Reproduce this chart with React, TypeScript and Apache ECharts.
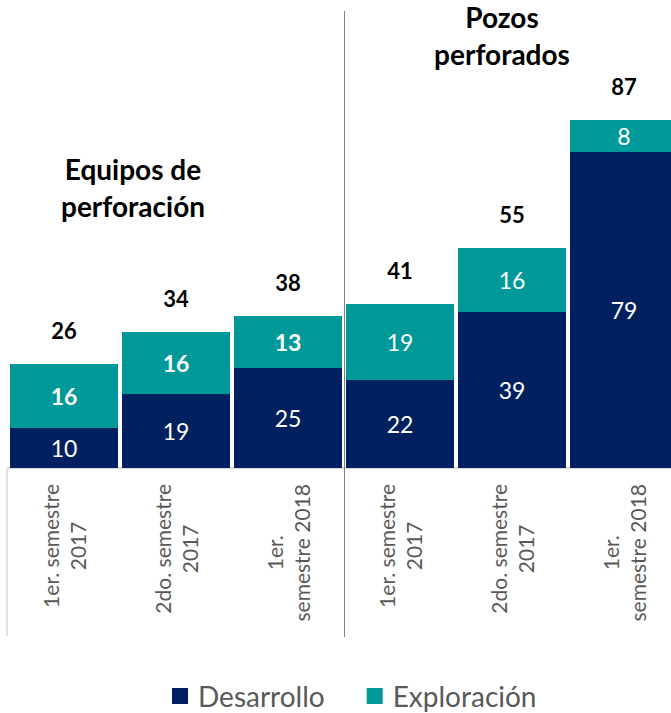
import React, { useEffect, useRef } from "react";
import * as echarts from "echarts";

const categoryLabels = [
  "1er. semestre\n2017",
  "2do. semestre\n2017",
  "1er.\nsemestre 2018",
  "1er. semestre\n2017",
  "2do. semestre\n2017",
  "1er.\nsemestre 2018",
];
const categoryIds = ["c0", "c1", "c2", "c3", "c4", "c5"];
const desarrollo = [10, 18.5, 25, 22, 39, 79];
const exploracion = [16, 15.5, 13, 19, 16, 8];
const exploracionBold = [true, true, true, false, false, false];
const groupTitles = ["Equipos de\nperforación", "Pozos\nperforados"];

const NAVY = "#002060";
const TEAL = "#009999";
const FONT = "Lato, 'Open Sans', sans-serif";

export default function App() {
  const ref = useRef<HTMLDivElement>(null);
  useEffect(() => {
    if (!ref.current) return;
    const chart = echarts.init(ref.current, undefined, { renderer: "svg" });
    const totals = desarrollo.map((d, i) => d + exploracion[i]);
    const titleStyle = {
      fontFamily: FONT,
      fontWeight: "bold",
      fontSize: 28,
      color: "#000",
      lineHeight: 37,
    };
    chart.setOption({
      animation: false,
      textStyle: { fontFamily: FONT },
      title: [
        { text: groupTitles[0], left: 133, top: 150, padding: 0, textAlign: "center", textStyle: titleStyle },
        { text: groupTitles[1], left: 502, top: -2, padding: 0, textAlign: "center", textStyle: titleStyle },
      ],
      legend: {
        data: ["Desarrollo", "Exploración"],
        top: 682,
        left: 172,
        padding: 0,
        icon: "rect",
        itemWidth: 16,
        itemHeight: 16,
        itemGap: 42,
        textStyle: { fontFamily: FONT, fontSize: 28, color: "#595959", padding: [0, 0, 0, 5] },
      },
      grid: [{ left: 8, width: 672, top: 68, height: 400 }],
      xAxis: [
        {
          type: "category",
          data: categoryIds,
          axisLine: { show: true, lineStyle: { color: "#d9d9d9", width: 2 } },
          axisTick: { show: false },
          axisLabel: {
            show: true,
            interval: 0,
            rotate: 90,
            align: "right",
            verticalAlign: "middle",
            margin: 16,
            formatter: (_v: string, i: number) =>
              categoryLabels[i]
                .split("\n")
                .map((l) => "{a|" + l + "}")
                .join("\n"),
            rich: {
              a: {
                align: "center",
                fontFamily: FONT,
                fontSize: 21,
                lineHeight: 27,
                color: "#595959",
              },
            },
          },
        },
      ],
      yAxis: [{ type: "value", min: 0, max: 100, show: false }],
      graphic: [
        {
          type: "line",
          shape: { x1: 344.5, y1: 11, x2: 344.5, y2: 637 },
          style: { stroke: "#808080", lineWidth: 1 },
          z: 10,
        },
        {
          type: "line",
          shape: { x1: 7, y1: 468, x2: 7, y2: 636 },
          style: { stroke: "#d9d9d9", lineWidth: 1.5 },
        },
      ],
      series: [
        {
          name: "Desarrollo",
          type: "bar",
          stack: "s",
          barWidth: 108,
          itemStyle: { color: NAVY },
          label: {
            show: true,
            position: "inside",
            color: "#fff",
            fontFamily: FONT,
            fontSize: 23,
            formatter: (p: any) => String(Math.round(p.value)),
          },
          data: desarrollo,
        },
        {
          name: "Exploración",
          type: "bar",
          stack: "s",
          barWidth: 108,
          itemStyle: { color: TEAL },
          label: {
            show: true,
            position: "inside",
            color: "#fff",
            fontFamily: FONT,
            fontSize: 23,
            formatter: (p: any) => String(Math.round(p.value)),
          },
          data: exploracion.map((v, i) => ({
            value: v,
            label: { fontWeight: exploracionBold[i] ? "bold" : "normal" },
          })),
        },
        {
          name: "Total",
          type: "bar",
          stack: "s",
          barWidth: 108,
          itemStyle: { color: "transparent" },
          label: {
            show: true,
            position: "top",
            distance: 23,
            color: "#000",
            fontFamily: FONT,
            fontWeight: "bold",
            fontSize: 22,
            formatter: (p: any) => String(Math.round(totals[p.dataIndex])),
          },
          data: totals.map(() => 0),
        },
      ],
    });
    return () => chart.dispose();
  }, []);
  return (
    <div style={{ position: "absolute", left: 0, top: 0, width: 671, height: 713, overflow: "hidden" }}>
      <div ref={ref} style={{ width: 700, height: 713 }} />
    </div>
  );
}
